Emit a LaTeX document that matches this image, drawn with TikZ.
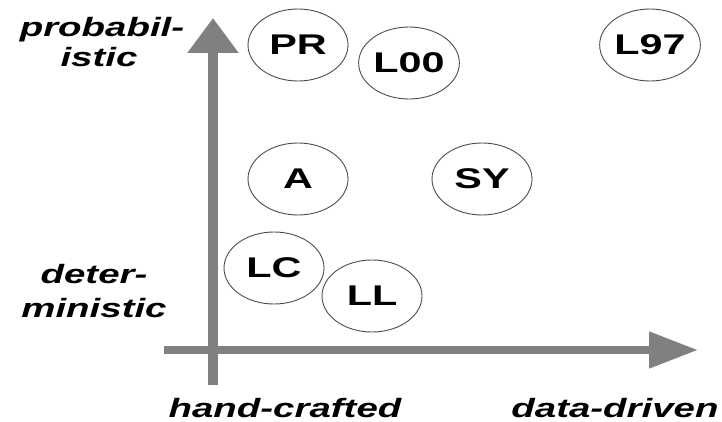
\documentclass[tikz,border=0pt]{standalone}
\usepackage{fontspec}
\setmainfont{Liberation Sans}
\usetikzlibrary{arrows.meta,shapes.geometric}

% wide Arial-like lettering
\newcommand{\widetext}[1]{\scalebox{1.45}[1]{#1}}

\tikzset{
  approach/.style={ellipse, draw=black!70, line width=0.9pt,
    minimum width=100pt, minimum height=72pt, inner sep=0pt,
    font=\fontsize{28.5}{30}\selectfont\bfseries},
  axislabel/.style={anchor=base, inner sep=0pt,
    font=\fontsize{26.5}{28}\selectfont\bfseries\itshape},
  axisline/.style={draw=black!50, line cap=butt}
}

\begin{document}
\begin{tikzpicture}[x=1pt, y=-1pt]
  \path[use as bounding box] (0,0) rectangle (722,422);

  % axes
  \coordinate (yfoot) at (213,385);
  \coordinate (ytip)  at (213,18);
  \coordinate (xfoot) at (164,350);
  \coordinate (xtip)  at (698,350);
  \draw[axisline, line width=10pt, -{Triangle[length=35pt,width=49pt]}] (yfoot) -- (ytip);
  \draw[axisline, line width=8pt, -{Triangle[length=49pt,width=35pt]}] (xfoot) -- (xtip);

  % approaches
  \node[approach] (pr)  at (298,45)  {\widetext{PR}};
  \node[approach] (l00) at (409,63)  {\widetext{L00}};
  \node[approach] (l97) at (650,45)  {\widetext{L97}};
  \node[approach] (a)   at (298,179) {\widetext{A}};
  \node[approach] (sy)  at (482,179) {\widetext{SY}};
  \node[approach] (lc)  at (274,268) {\widetext{LC}};
  \node[approach] (ll)  at (372,296) {\widetext{LL}};

  % axis labels
  \node[axislabel] (prob1) at (102,37)  {\widetext{probabil-}};
  \node[axislabel] (prob2) at (99,67)   {\widetext{istic}};
  \node[axislabel] (det1)  at (94,283)  {\widetext{deter-}};
  \node[axislabel] (det2)  at (94,317)  {\widetext{ministic}};
  \node[axislabel] (hand)  at (285,417) {\widetext{hand-crafted}};
  \node[axislabel] (data)  at (615,417) {\widetext{data-driven}};
\end{tikzpicture}
\end{document}
